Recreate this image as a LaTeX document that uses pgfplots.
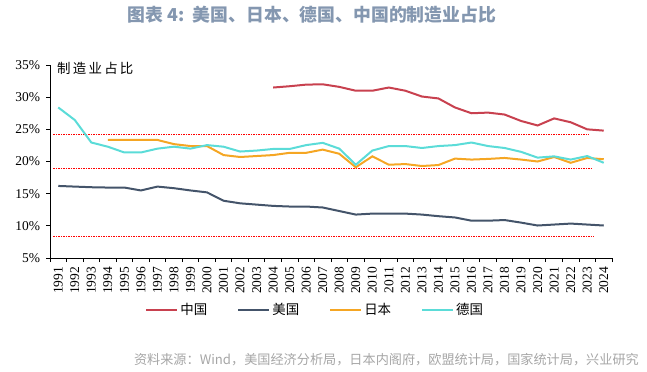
\documentclass[border=0pt]{standalone}
\usepackage{pgfplots}
\pgfplotsset{compat=1.18}
\usepackage{fontspec}
\setmainfont{Liberation Serif}
\newfontfamily\cjk{Noto Sans CJK SC}
\definecolor{cn}{HTML}{C8414F}
\definecolor{us}{HTML}{44546A}
\definecolor{jp}{HTML}{F5A623}
\definecolor{de}{HTML}{5BDCD8}
\definecolor{titlecol}{HTML}{8497B0}
\definecolor{srccol}{HTML}{A6A6A6}
\begin{document}
\begin{tikzpicture}
\useasboundingbox (-50bp,-114bp) rectangle (597bp,258bp);
\begin{axis}[
  at={(0bp,0bp)}, anchor=south west,
  width=562bp, height=193bp, scale only axis,
  xmin=-0.5, xmax=33.5, ymin=5, ymax=35,
  axis x line*=bottom, axis y line*=left,
  axis line style={black, line width=0.9bp},
  xtick={0,...,33},
  xticklabels={1991,1992,1993,1994,1995,1996,1997,1998,1999,2000,2001,2002,2003,2004,2005,2006,2007,2008,2009,2010,2011,2012,2013,2014,2015,2016,2017,2018,2019,2020,2021,2022,2023,2024},
  major x tick style={draw=none},
  minor xtick={-0.5,0.5,...,33.5},
  minor tick length=4bp,
  minor x tick style={black, line width=0.8bp},
  tick align=outside,
  ytick={5,10,...,35},
  yticklabel={\pgfmathprintnumber{\tick}\%},
  major tick length=3.5bp,
  y tick style={black, line width=0.8bp},
  xticklabel style={rotate=90, anchor=east, font=\fontsize{13.5}{13.5}\selectfont, xshift=-2bp},
  yticklabel style={font=\fontsize{13.5}{13.5}\selectfont, xshift=-3bp},
  /pgf/number format/assume math mode=true,
  legend style={at={(0.472,-0.269)}, anchor=center, draw=none, fill=none,
    legend columns=4, font=\cjk\fontsize{13.5}{13.5}\selectfont,
    /tikz/every even column/.append style={column sep=28bp},
    inner sep=0pt},
  legend cell align=left,
  legend image code/.code={\draw[#1, line width=2bp] (0bp,0bp) -- (31bp,0bp);},
  clip=false,
]
\addplot[red, line width=0.8bp, dash pattern=on 1.5bp off 1bp, forget plot] coordinates {(-0.3,24.2) (32.1,24.2)};
\addplot[red, line width=0.8bp, dash pattern=on 1.5bp off 1bp, forget plot] coordinates {(-0.3,18.95) (32.3,18.95)};
\addplot[red, line width=0.8bp, dash pattern=on 1.5bp off 1bp, forget plot] coordinates {(-0.3,8.4) (32.4,8.4)};

\addplot[cn, line width=2bp] coordinates {
(13,31.5) (14,31.7) (15,31.95) (16,32.0) (17,31.6) (18,31.0) (19,31.0) (20,31.5) (21,31.0) (22,30.1) (23,29.8) (24,28.4) (25,27.5) (26,27.6) (27,27.3) (28,26.3) (29,25.6) (30,26.7) (31,26.1) (32,25.0) (33,24.8)};
\addlegendentry{中国}
\addplot[us, line width=2bp] coordinates {
(0,16.2) (1,16.1) (2,16.0) (3,15.95) (4,15.95) (5,15.5) (6,16.1) (7,15.85) (8,15.5) (9,15.2) (10,13.9) (11,13.5) (12,13.3) (13,13.1) (14,13.0) (15,13.0) (16,12.85) (17,12.3) (18,11.75) (19,11.9) (20,11.9) (21,11.9) (22,11.75) (23,11.5) (24,11.3) (25,10.8) (26,10.8) (27,10.9) (28,10.5) (29,10.05) (30,10.2) (31,10.35) (32,10.2) (33,10.05)};
\addlegendentry{美国}
\addplot[jp, line width=2bp] coordinates {
(3,23.35) (4,23.35) (5,23.35) (6,23.35) (7,22.7) (8,22.4) (9,22.4) (10,21.0) (11,20.7) (12,20.85) (13,21.0) (14,21.35) (15,21.35) (16,21.85) (17,21.2) (18,19.1) (19,20.8) (20,19.5) (21,19.6) (22,19.3) (23,19.45) (24,20.45) (25,20.3) (26,20.4) (27,20.55) (28,20.3) (29,20.0) (30,20.7) (31,19.8) (32,20.55) (33,20.35)};
\addlegendentry{日本}
\addplot[de, line width=2bp] coordinates {
(0,28.4) (1,26.45) (2,22.95) (3,22.3) (4,21.4) (5,21.4) (6,22.0) (7,22.3) (8,22.0) (9,22.55) (10,22.3) (11,21.55) (12,21.7) (13,21.95) (14,21.95) (15,22.55) (16,22.9) (17,22.0) (18,19.5) (19,21.7) (20,22.4) (21,22.4) (22,22.1) (23,22.4) (24,22.55) (25,22.95) (26,22.4) (27,22.1) (28,21.5) (29,20.6) (30,20.8) (31,20.3) (32,20.85) (33,19.8)};
\addlegendentry{德国}

\node[anchor=west, font=\cjk\fontsize{13.5}{13.5}\selectfont, inner sep=0pt] at (rel axis cs:0.0125,0.982) {制\,造\,业\,占\,比};
\end{axis}
\node[font=\cjk\bfseries\fontsize{17.9}{17.9}\selectfont, text=titlecol] at (262bp,243bp) {图表 4:\ \ 美国、日本、德国、中国的制造业占比};
\node[anchor=east, font=\cjk\fontsize{13.2}{13.2}\selectfont, text=srccol, inner sep=0pt] at (589bp,-102bp) {资料来源：Wind，美国经济分析局，日本内阁府，欧盟统计局，国家统计局，兴业研究};
\end{tikzpicture}
\end{document}
